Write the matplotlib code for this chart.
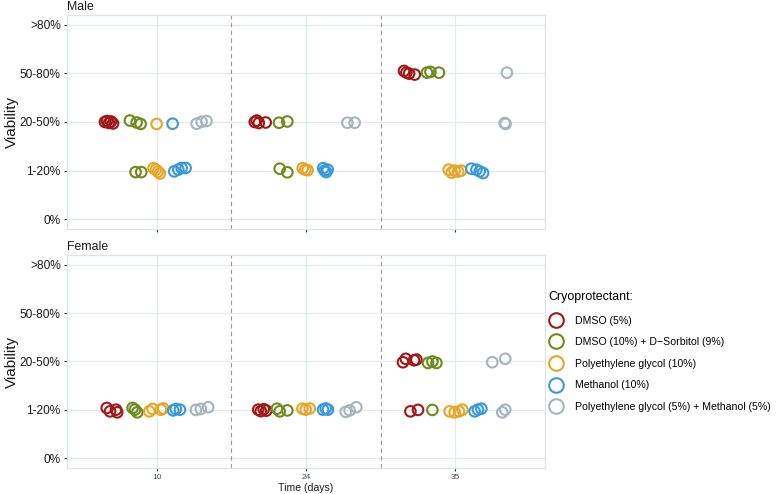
import matplotlib
matplotlib.use("Agg")
import matplotlib.pyplot as plt
from matplotlib.lines import Line2D

plt.rcParams['font.family'] = ['Liberation Sans', 'DejaVu Sans']

days = ['10', '24', '35']
levels = ['0%', '1-20%', '20-50%', '50-80%', '>80%']
treatments = ['DMSO (5%)', 'DMSO (10%) + D\u2212Sorbitol (9%)', 'Polyethylene glycol (10%)',
              'Methanol (10%)', 'Polyethylene glycol (5%) + Methanol (5%)']
colors = ['#a01818', '#6e8b1c', '#e8a628', '#3a9ad9', '#a6b4bb']
dodge = [-0.3, -0.15, 0.0, 0.15, 0.3]

# (day index, treatment index, viability level index, jitter x, jitter y)
male_points = [
    (0, 0, 2, -0.046, 0.00), (0, 0, 2, -0.032, 0.02), (0, 0, 2, -0.019, -0.02),
    (0, 0, 2, -0.006, 0.01), (0, 0, 2, 0.008, -0.03),
    (0, 1, 2, -0.029, 0.03), (0, 1, 2, 0.016, -0.01), (0, 1, 2, 0.043, -0.04),
    (0, 1, 1, 0.009, -0.03), (0, 1, 1, 0.047, -0.03),
    (0, 2, 2, 0.000, -0.04),
    (0, 2, 1, -0.021, 0.05), (0, 2, 1, -0.005, 0.02), (0, 2, 1, 0.009, -0.02), (0, 2, 1, 0.022, -0.06),
    (0, 3, 2, -0.043, -0.035),
    (0, 3, 1, -0.032, -0.015), (0, 3, 1, -0.005, 0.02), (0, 3, 1, 0.017, 0.055), (0, 3, 1, 0.044, 0.055),
    (0, 4, 2, -0.032, -0.035), (0, 4, 2, 0.001, 0.005), (0, 4, 2, 0.034, 0.02),
    (1, 0, 2, -0.043, 0.00), (1, 0, 2, -0.030, 0.03), (1, 0, 2, -0.016, -0.02), (1, 0, 2, 0.030, -0.01),
    (1, 1, 2, -0.031, -0.015), (1, 1, 2, 0.025, 0.01),
    (1, 1, 1, -0.026, 0.04), (1, 1, 1, 0.025, -0.035),
    (1, 2, 1, -0.022, 0.05), (1, 2, 1, -0.005, 0.02), (1, 2, 1, 0.011, 0.01),
    (1, 3, 1, -0.035, 0.05), (1, 3, 1, -0.025, 0.00), (1, 3, 1, -0.015, -0.03), (1, 3, 1, -0.005, 0.02),
    (1, 4, 2, -0.023, -0.015), (1, 4, 2, 0.026, -0.015),
    (2, 0, 3, -0.044, 0.05), (2, 0, 3, -0.028, 0.015), (2, 0, 3, -0.010, -0.005), (2, 0, 3, 0.028, -0.025),
    (2, 1, 3, -0.040, 0.015), (2, 1, 3, -0.017, 0.03), (2, 1, 3, 0.040, 0.015),
    (2, 2, 1, -0.045, 0.02), (2, 2, 1, -0.025, -0.04), (2, 2, 1, -0.005, 0.00),
    (2, 2, 1, 0.019, -0.02), (2, 2, 1, 0.039, 0.00),
    (2, 3, 1, -0.043, 0.04), (2, 3, 1, -0.009, 0.02), (2, 3, 1, 0.013, -0.015), (2, 3, 1, 0.035, -0.05),
    (2, 4, 3, 0.045, 0.015),
    (2, 4, 2, 0.030, -0.02), (2, 4, 2, 0.036, -0.04),
]

female_points = [
    (0, 0, 1, -0.034, 0.04), (0, 0, 1, -0.012, -0.03), (0, 0, 1, 0.028, 0.005), (0, 0, 1, 0.036, -0.05),
    (0, 1, 1, -0.011, 0.04), (0, 1, 1, 0.005, 0.005), (0, 1, 1, 0.020, -0.05),
    (0, 2, 1, -0.049, -0.03), (0, 2, 1, -0.027, 0.02), (0, 2, 1, 0.029, 0.005), (0, 2, 1, 0.044, 0.03),
    (0, 3, 1, -0.039, -0.01), (0, 3, 1, -0.021, 0.02), (0, 3, 1, 0.006, 0.005),
    (0, 4, 1, -0.037, 0.00), (0, 4, 1, -0.004, 0.02), (0, 4, 1, 0.045, 0.055),
    (1, 0, 1, -0.020, 0.005), (1, 0, 1, -0.003, -0.025), (1, 0, 1, 0.017, 0.015), (1, 0, 1, 0.034, -0.015),
    (1, 1, 1, -0.044, 0.025), (1, 1, 1, -0.026, -0.03), (1, 1, 1, 0.025, -0.01),
    (1, 2, 1, -0.024, 0.025), (1, 2, 1, -0.002, 0.005), (1, 2, 1, 0.025, 0.03),
    (1, 3, 1, -0.036, 0.005), (1, 3, 1, -0.018, 0.03), (1, 3, 1, -0.003, 0.005),
    (1, 4, 1, -0.034, -0.04), (1, 4, 1, -0.008, -0.01), (1, 4, 1, 0.037, 0.055),
    (2, 0, 2, -0.051, -0.015), (2, 0, 2, -0.032, 0.055), (2, 0, 2, 0.023, 0.025), (2, 0, 2, 0.039, 0.04),
    (2, 0, 1, -0.001, -0.03), (2, 0, 1, 0.050, 0.00),
    (2, 1, 2, -0.033, -0.03), (2, 1, 2, -0.004, 0.00), (2, 1, 2, 0.023, -0.03),
    (2, 1, 1, -0.004, 0.00),
    (2, 2, 1, -0.038, -0.03), (2, 2, 1, -0.005, -0.05), (2, 2, 1, 0.024, -0.03), (2, 2, 1, 0.047, 0.005),
    (2, 3, 1, -0.021, -0.03), (2, 3, 1, 0.001, 0.005), (2, 3, 1, 0.024, 0.025),
    (2, 4, 2, -0.053, -0.015), (2, 4, 2, 0.034, 0.055),
    (2, 4, 1, 0.014, -0.05), (2, 4, 1, 0.034, 0.005),
]

W, H = 778, 494
fig = plt.figure(figsize=(W / 100, H / 100), dpi=100)

grid_col = '#e4e9ec'
border_col = '#dde3e6'

panels = [('Male', male_points, (67, 15, 545, 229)),
          ('Female', female_points, (67, 255, 545, 468))]

for i, (title, pts, (x0, y0, x1, y1)) in enumerate(panels):
    ax = fig.add_axes([x0 / W, 1 - y1 / H, (x1 - x0) / W, (y1 - y0) / H])
    ax.set_xlim(0.4, 3.6)
    ax.set_ylim(-0.2, 4.2)
    ax.set_xticks([1, 2, 3])
    ax.set_yticks(range(len(levels)))
    ax.set_yticklabels(levels, fontsize=8.6, color='#1a1a1a')
    if i == 1:
        ax.set_xticklabels(days, fontsize=6, color='#4d4d4d')
        ax.set_xlabel('Time (days)', fontsize=7.6, color='#1a1a1a', labelpad=1)
    else:
        ax.set_xticklabels([])
    ax.tick_params(axis='both', length=2.5, width=0.8, color='#333333', pad=2)
    ax.grid(True, color=grid_col, linewidth=0.9)
    ax.set_axisbelow(True)
    for s in ax.spines.values():
        s.set_color(border_col)
        s.set_linewidth(0.9)
    for xv in (1.5, 2.5):
        ax.axvline(xv, color='#9a9a9a', linestyle=(0, (4, 3)), linewidth=0.8, zorder=1)
    for d, t, lv, jx, jy in pts:
        ax.scatter(d + 1 + dodge[t] + jx, lv + jy, s=58, facecolors='none',
                   edgecolors=colors[t], linewidths=1.5, zorder=3)
    ax.set_title(title, loc='left', fontsize=8.8, pad=3.5, color='#1a1a1a')
    ax.set_ylabel('Viability', fontsize=11, color='#1a1a1a', labelpad=0.5)

handles = [Line2D([], [], linestyle='none', marker='o', markersize=10.5,
                  markerfacecolor='none', markeredgecolor=c, markeredgewidth=1.5)
           for c in colors]
leg = fig.legend(handles, treatments, loc='upper left',
                 bbox_to_anchor=(548 / W, 1 - 291 / H), frameon=False,
                 fontsize=7.6, title='Cryoprotectant:', title_fontsize=8.9,
                 handlelength=1.6, handletextpad=1.0, labelspacing=1.1,
                 borderpad=0, borderaxespad=0, alignment='left')
leg._legend_box.sep = 9

fig.savefig('out.png', dpi=100)
